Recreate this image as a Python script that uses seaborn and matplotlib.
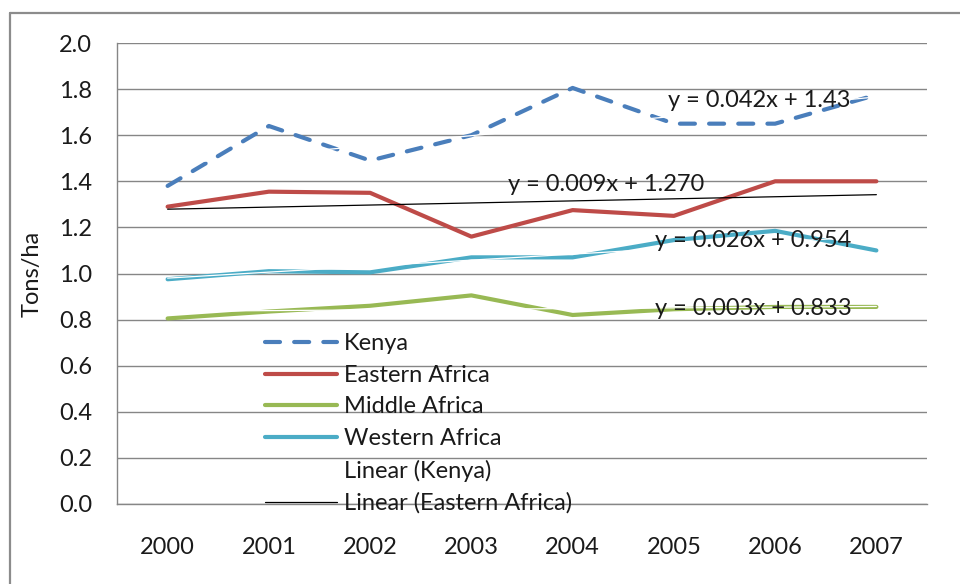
import numpy as np
import pandas as pd
import matplotlib
matplotlib.use("Agg")
import matplotlib.pyplot as plt
from matplotlib.lines import Line2D
from matplotlib.ticker import FixedLocator
import seaborn as sns

# Yields (tons/ha) by year
years = ["2000", "2001", "2002", "2003", "2004", "2005", "2006", "2007"]
kenya = [1.38, 1.64, 1.49, 1.60, 1.805, 1.65, 1.65, 1.775]
eastern_africa = [1.29, 1.355, 1.35, 1.16, 1.275, 1.25, 1.40, 1.40]
middle_africa = [0.805, 0.835, 0.86, 0.905, 0.82, 0.845, 0.855, 0.855]
western_africa = [0.975, 1.01, 1.005, 1.07, 1.07, 1.145, 1.185, 1.10]
y_ticks = [0.0, 0.2, 0.4, 0.6, 0.8, 1.0, 1.2, 1.4, 1.6, 1.8, 2.0]

series_names = ["Kenya", "Eastern Africa", "Middle Africa", "Western Africa"]
series_values = [kenya, eastern_africa, middle_africa, western_africa]
series_colors = ["#4A7EBB", "#BE4B48", "#98B954", "#4BACC6"]

# Linear trend lines: y = slope * x + intercept, with x = 1 .. 8
trend_names = ["Kenya", "Eastern Africa", "Middle Africa", "Western Africa"]
trend_slopes = [0.042, 0.009, 0.003, 0.026]
trend_intercepts = [1.43, 1.270, 0.833, 0.954]
trend_labels = ["y = 0.042x + 1.43", "y = 0.009x + 1.270",
                "y = 0.003x + 0.833", "y = 0.026x + 0.954"]
trend_colors = ["white", "black", "white", "white"]

sns.set_style("white")
plt.rcParams["font.family"] = ["Lato", "DejaVu Sans"]
FS = 17
TXT = "#1a1a1a"

fig = plt.figure(figsize=(9.6, 5.84), dpi=100)
ax = fig.add_axes([117 / 960, 80 / 584, 810 / 960, 461 / 584])

pos = np.arange(len(years))
frames = []
for name, vals in zip(series_names, series_values):
    frames.append(pd.DataFrame({"pos": pos, "value": vals, "series": name}))
df = pd.concat(frames, ignore_index=True)

KENYA_DASH = (3.6, 3.4)
handles = {}
for name, color in zip(series_names, series_colors):
    sub = df[df["series"] == name]
    sns.lineplot(data=sub, x="pos", y="value", ax=ax, color=color,
                 linewidth=3.0, zorder=3, legend=False)
    line = ax.lines[-1]
    line.set_solid_capstyle("round")
    line.set_solid_joinstyle("round")
    h = Line2D([], [], color=color, linewidth=3.0, solid_capstyle="round")
    if name == "Kenya":
        line.set_dashes(KENYA_DASH)
        line.set_dash_capstyle("round")
        h.set_dashes(KENYA_DASH)
        h.set_dash_capstyle("round")
    handles[name] = h

# Trend lines
trend_handles = {}
for name, m, b, color in zip(trend_names, trend_slopes, trend_intercepts, trend_colors):
    tx = np.arange(1, len(years) + 1)
    ty = m * tx + b
    tdf = pd.DataFrame({"pos": pos, "value": ty})
    sns.lineplot(data=tdf, x="pos", y="value", ax=ax, color=color,
                 linewidth=0.9, zorder=4, legend=False)
    trend_handles[name] = Line2D([], [], color=color, linewidth=0.9)

# Equation labels
label_pos = {
    "y = 0.042x + 1.43": (4.94, 1.761),
    "y = 0.009x + 1.270": (3.36, 1.393),
    "y = 0.026x + 0.954": (4.81, 1.154),
    "y = 0.003x + 0.833": (4.81, 0.855),
}
for lab in trend_labels:
    x0, y0 = label_pos[lab]
    ax.text(x0, y0, lab, fontsize=FS, color=TXT, ha="left",
            va="center_baseline", zorder=5)

# Axes styling
ax.set_xlim(-0.5, len(years) - 0.5)
ax.set_ylim(0, 2.0)
ax.set_yticks(y_ticks)
ax.set_yticklabels([f"{v:.1f}" for v in y_ticks])
ax.set_xticks(pos)
ax.set_xticklabels(years)
ax.xaxis.set_minor_locator(FixedLocator(np.arange(-0.5, len(years), 1.0)))
ax.tick_params(axis="x", which="major", length=0, pad=24, labelsize=FS,
               labelcolor=TXT)
ax.tick_params(axis="x", which="minor", length=5, width=1, color="#868686",
               direction="out")
ax.tick_params(axis="y", which="major", length=7, width=1, color="#868686",
               direction="out", pad=11, labelsize=FS, labelcolor=TXT)
ax.grid(axis="y", color="#868686", linewidth=1.0, zorder=0)
ax.set_axisbelow(True)
ax.set_xlabel("")
ax.set_ylabel("Tons/ha", fontsize=FS, color=TXT, labelpad=12)
for side in ["top", "right"]:
    ax.spines[side].set_visible(False)
for side in ["left", "bottom"]:
    ax.spines[side].set_color("#868686")
    ax.spines[side].set_linewidth(1.0)

leg_handles = [handles["Kenya"], handles["Eastern Africa"],
               handles["Middle Africa"], handles["Western Africa"],
               trend_handles["Kenya"], trend_handles["Eastern Africa"]]
leg_labels = ["Kenya", "Eastern Africa", "Middle Africa", "Western Africa",
              "Linear (Kenya)", "Linear (Eastern Africa)"]
leg = ax.legend(leg_handles, leg_labels, loc="upper left",
                bbox_to_anchor=(0.171, 0.391),
                frameon=False, fontsize=FS, handlelength=3.05,
                handletextpad=0.28, labelspacing=0.45, borderaxespad=0)
for t in leg.get_texts():
    t.set_color(TXT)

# Outer chart border
fig.add_artist(Line2D([10 / 960, 1.0], [1 - 13 / 584, 1 - 13 / 584],
                      transform=fig.transFigure, color="#8c8c8c", linewidth=1.6))
fig.add_artist(Line2D([10 / 960, 10 / 960], [0.0, 1 - 13 / 584],
                      transform=fig.transFigure, color="#8c8c8c", linewidth=1.6))

fig.savefig("out.png", dpi=100)
